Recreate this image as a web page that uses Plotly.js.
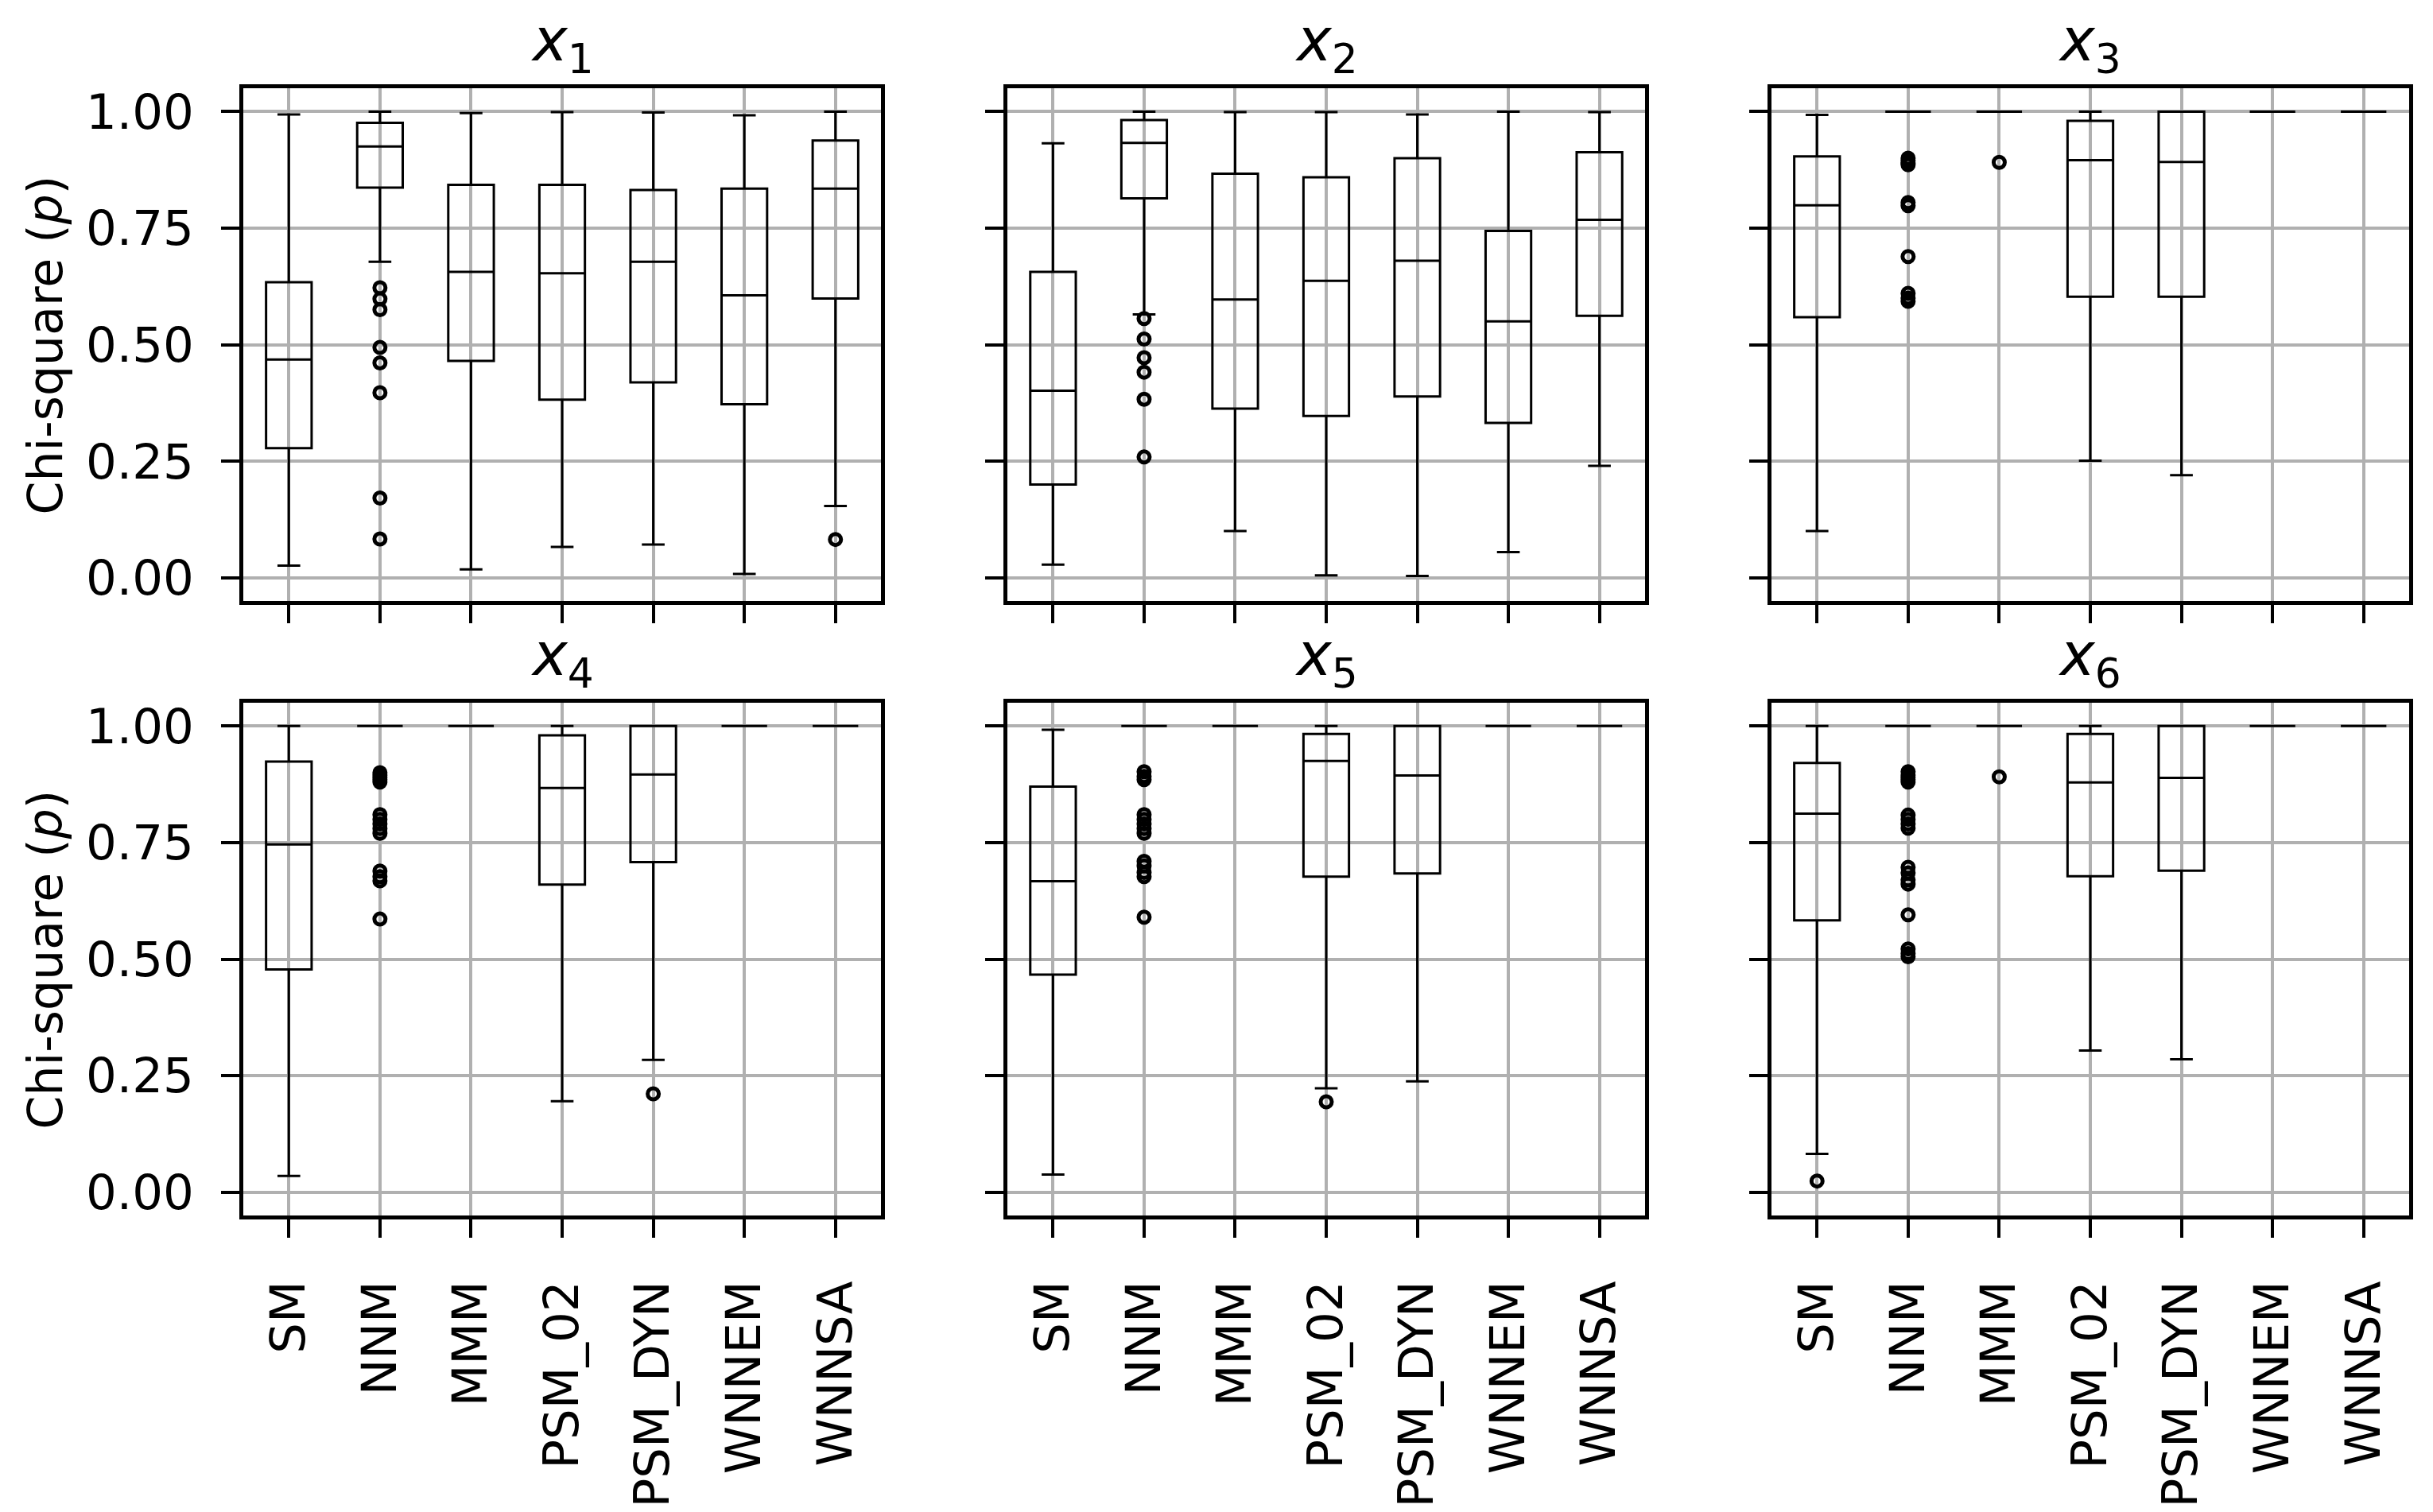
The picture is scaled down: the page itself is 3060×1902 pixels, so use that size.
<!DOCTYPE html>
<html>
<head>
<meta charset="utf-8">
<script src="https://cdn.plot.ly/plotly-3.0.1.min.js"></script>
<style>
  body { margin: 0; background: #fff; }
  #chart { width: 3060px; height: 1902px; }
</style>
</head>
<body>
<div id="chart"></div>
<script>
// categories (same for every panel)
const methods = ['SM', 'NNM', 'MMM', 'PSM_02', 'PSM_DYN', 'WNNEM', 'WNNSA'];
const panelSubs = ['1', '2', '3', '4', '5', '6'];

// box statistics, one row per panel (x1..x6), one value per method
const upperWhisker = [
    [0.994, 1.000, 0.997, 0.999, 0.998, 0.992, 1.000],
    [0.932, 1.000, 0.999, 0.999, 0.994, 1.000, 0.999],
    [0.993, 1.000, 1.000, 1.000, 1.000, 1.000, 1.000],
    [1.000, 1.000, 1.000, 1.000, 1.000, 1.000, 1.000],
    [0.992, 1.000, 1.000, 1.000, 1.000, 1.000, 1.000],
    [1.000, 1.000, 1.000, 1.000, 1.000, 1.000, 1.000]
];
const q3 = [
    [0.634, 0.976, 0.843, 0.843, 0.832, 0.835, 0.938],
    [0.656, 0.982, 0.867, 0.859, 0.900, 0.744, 0.913],
    [0.904, 1.000, 1.000, 0.980, 1.000, 1.000, 1.000],
    [0.924, 1.000, 1.000, 0.980, 1.000, 1.000, 1.000],
    [0.870, 1.000, 1.000, 0.983, 1.000, 1.000, 1.000],
    [0.921, 1.000, 1.000, 0.983, 1.000, 1.000, 1.000]
];
const medians = [
    [0.468, 0.925, 0.656, 0.653, 0.678, 0.606, 0.835],
    [0.401, 0.933, 0.597, 0.637, 0.680, 0.550, 0.768],
    [0.799, 1.000, 1.000, 0.896, 0.892, 1.000, 1.000],
    [0.746, 1.000, 1.000, 0.867, 0.896, 1.000, 1.000],
    [0.667, 1.000, 1.000, 0.925, 0.894, 1.000, 1.000],
    [0.812, 1.000, 1.000, 0.879, 0.889, 1.000, 1.000]
];
const q1 = [
    [0.278, 0.837, 0.465, 0.382, 0.419, 0.372, 0.599],
    [0.200, 0.814, 0.363, 0.347, 0.389, 0.332, 0.562],
    [0.559, 1.000, 1.000, 0.603, 0.603, 1.000, 1.000],
    [0.478, 1.000, 1.000, 0.660, 0.708, 1.000, 1.000],
    [0.467, 1.000, 1.000, 0.677, 0.684, 1.000, 1.000],
    [0.583, 1.000, 1.000, 0.678, 0.690, 1.000, 1.000]
];
const lowerWhisker = [
    [0.026, 0.678, 0.018, 0.066, 0.071, 0.008, 0.154],
    [0.028, 0.565, 0.100, 0.005, 0.004, 0.055, 0.240],
    [0.100, 1.000, 1.000, 0.251, 0.220, 1.000, 1.000],
    [0.035, 1.000, 1.000, 0.195, 0.284, 1.000, 1.000],
    [0.038, 1.000, 1.000, 0.223, 0.238, 1.000, 1.000],
    [0.082, 1.000, 1.000, 0.304, 0.285, 1.000, 1.000]
];

// outliers: [method, value] pairs per panel
const outliersX1 = [
    ['NNM', 0.622], ['NNM', 0.598], ['NNM', 0.575], ['NNM', 0.494], ['NNM', 0.461],
    ['NNM', 0.397], ['NNM', 0.171], ['NNM', 0.083], ['WNNSA', 0.082]
];
const outliersX2 = [
    ['NNM', 0.556], ['NNM', 0.512], ['NNM', 0.472], ['NNM', 0.441], ['NNM', 0.383], ['NNM', 0.259]
];
const outliersX3 = [
    ['NNM', 0.900], ['NNM', 0.895], ['NNM', 0.890], ['NNM', 0.886], ['NNM', 0.805], ['NNM', 0.798],
    ['NNM', 0.689], ['NNM', 0.610], ['NNM', 0.600], ['NNM', 0.593], ['MMM', 0.891]
];
const outliersX4 = [
    ['NNM', 0.900], ['NNM', 0.895], ['NNM', 0.890], ['NNM', 0.885], ['NNM', 0.880],
    ['NNM', 0.810], ['NNM', 0.800], ['NNM', 0.790], ['NNM', 0.780], ['NNM', 0.770],
    ['NNM', 0.689], ['NNM', 0.677], ['NNM', 0.668], ['NNM', 0.586], ['PSM_DYN', 0.211]
];
const outliersX5 = [
    ['NNM', 0.902], ['NNM', 0.892], ['NNM', 0.885], ['NNM', 0.810], ['NNM', 0.800],
    ['NNM', 0.790], ['NNM', 0.780], ['NNM', 0.770], ['NNM', 0.710], ['NNM', 0.700],
    ['NNM', 0.686], ['NNM', 0.677], ['NNM', 0.590], ['PSM_02', 0.194]
];
const outliersX6 = [
    ['SM', 0.024], ['NNM', 0.902], ['NNM', 0.895], ['NNM', 0.890], ['NNM', 0.885], ['NNM', 0.880],
    ['NNM', 0.809], ['NNM', 0.800], ['NNM', 0.790], ['NNM', 0.781], ['NNM', 0.697],
    ['NNM', 0.685], ['NNM', 0.670], ['NNM', 0.661], ['NNM', 0.595], ['NNM', 0.522],
    ['NNM', 0.512], ['NNM', 0.505], ['MMM', 0.891]
];
const outliers = [outliersX1, outliersX2, outliersX3, outliersX4, outliersX5, outliersX6];

const yTicks = [0, 0.25, 0.5, 0.75, 1.0];

// panel placement (paper fractions)
const colDomains = [[0.1000, 0.3621], [0.4141, 0.6761], [0.7281, 0.9902]];
const rowDomains = [[0.6025, 0.9416], [0.1961, 0.5352]];

const FONT = 'DejaVu Sans, sans-serif';
const traces = [];
const layout = {
    width: 3060,
    height: 1902,
    margin: { t: 0, b: 0, l: 0, r: 0 },
    paper_bgcolor: '#fff',
    plot_bgcolor: '#fff',
    showlegend: false,
    font: { family: FONT, color: '#000', size: 61 },
    annotations: []
};

for (let p = 0; p < 6; p++) {
    const row = Math.floor(p / 3);
    const col = p % 3;
    const n = p + 1;
    const xa = 'x' + (n === 1 ? '' : n);
    const ya = 'y' + (n === 1 ? '' : n);

    traces.push({
        type: 'box',
        x: methods,
        q1: q1[p],
        median: medians[p],
        q3: q3[p],
        lowerfence: lowerWhisker[p],
        upperfence: upperWhisker[p],
        boxpoints: false,
        width: 0.5,
        whiskerwidth: 0.5,
        line: { color: '#000', width: 3 },
        fillcolor: 'rgba(0,0,0,0)',
        hoverinfo: 'skip',
        xaxis: xa,
        yaxis: ya
    });

    // fliers: heavy open rings like matplotlib's default
    traces.push({
        type: 'scatter',
        mode: 'markers',
        x: outliers[p].map(o => o[0]),
        y: outliers[p].map(o => o[1]),
        marker: { symbol: 'circle', size: 14, color: 'rgba(0,0,0,0)', line: { width: 5, color: '#000' } },
        hoverinfo: 'skip',
        xaxis: xa,
        yaxis: ya
    });

    layout['xaxis' + (n === 1 ? '' : n)] = {
        domain: colDomains[col],
        anchor: ya,
        type: 'category',
        categoryorder: 'array',
        categoryarray: methods,
        range: [-0.5, 6.5],
        showgrid: true,
        gridcolor: '#b0b0b0',
        gridwidth: 4,
        zeroline: false,
        showline: true,
        mirror: true,
        linecolor: '#000',
        linewidth: 5,
        ticks: 'outside',
        ticklen: 23,
        tickwidth: 4,
        tickcolor: '#000',
        showticklabels: row === 1,
        tickangle: -90,
        ticklabelstandoff: 30,
        tickfont: { family: FONT, size: 61, color: '#000' },
        fixedrange: true
    };

    layout['yaxis' + (n === 1 ? '' : n)] = {
        domain: rowDomains[row],
        anchor: xa,
        range: [-0.05, 1.05],
        tickvals: yTicks,
        tickformat: '.2f',
        showgrid: true,
        gridcolor: '#b0b0b0',
        gridwidth: 4,
        zeroline: false,
        showline: true,
        mirror: true,
        linecolor: '#000',
        linewidth: 5,
        ticks: 'outside',
        ticklen: 23,
        tickwidth: 4,
        tickcolor: '#000',
        showticklabels: col === 0,
        ticklabelstandoff: 22,
        tickfont: { family: FONT, size: 61, color: '#000' },
        fixedrange: true
    };

    // panel title x_n
    layout.annotations.push({
        xref: 'paper', yref: 'paper',
        x: (colDomains[col][0] + colDomains[col][1]) / 2,
        y: rowDomains[row][1] + 0.0290,
        xanchor: 'center', yanchor: 'middle',
        text: '<i>x</i><sub>' + panelSubs[p] + '</sub>',
        showarrow: false,
        font: { family: FONT, size: 74, color: '#000' }
    });
}

// y-axis titles on the left column
for (let r = 0; r < 2; r++) {
    layout.annotations.push({
        xref: 'paper', yref: 'paper',
        x: 0.0186,
        y: (rowDomains[r][0] + rowDomains[r][1]) / 2,
        xanchor: 'center', yanchor: 'middle',
        textangle: -90,
        text: 'Chi-square (<i>p</i>)',
        showarrow: false,
        font: { family: FONT, size: 60, color: '#000' }
    });
}

Plotly.newPlot('chart', traces, layout, { staticPlot: true, displayModeBar: false });
</script>
</body>
</html>
